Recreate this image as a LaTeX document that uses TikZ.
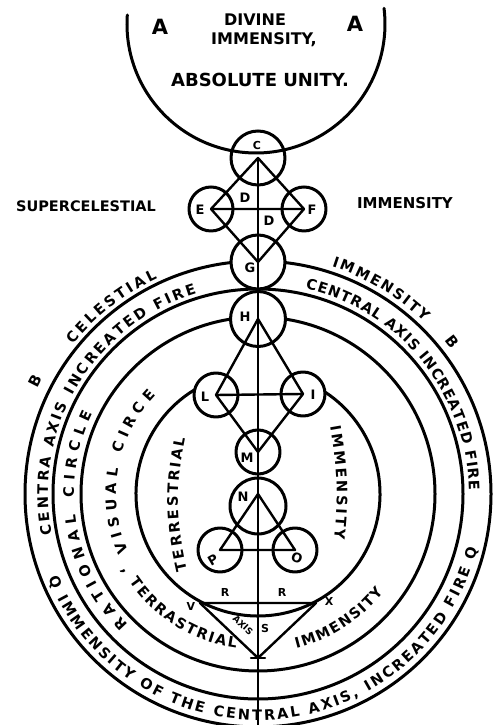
\documentclass[tikz,border=0pt]{standalone}
\usepackage{fontspec}
\setmainfont{DejaVu Sans}
\usetikzlibrary{calc,decorations.text}
\newcommand\hand[1]{\fontsize{#1}{#1}\selectfont\bfseries}

\begin{document}
\begin{tikzpicture}[x=1pt,y=1pt,line cap=round,line join=round,
  every node/.style={font=\hand{13},inner sep=0pt},
  ball/.style={circle,draw,line width=3pt,fill=white,inner sep=0pt,minimum size=#1},
  ring/.style={line width=3pt},
  link/.style={line width=2.4pt},
  arctext/.style={decorate,decoration={text along path,text align=fit to path,text={|\hand{14.5}|#1}}}]
\useasboundingbox (0,0) rectangle (494,725);
\fill[white] (0,0) rectangle (494,725);
\coordinate (ctr) at (258,231);\coordinate (top) at (256,701);\coordinate (foot) at (258,0);
\coordinate (V) at (200,122);\coordinate (X) at (316,122);\coordinate (base) at (258,67);
\draw[ring] (ctr) circle[radius=233];
\draw[ring] (ctr) circle[radius=205];
\draw[ring] (ctr) circle[radius=177];
\draw[ring] ($(ctr)+(118:122)$) arc[start angle=118,end angle=422,radius=122];
\node[ball=54] (C) at (258,567) {};
\node[ball=44] (E) at (211,516) {};\node[ball=44] (F) at (304,516) {};
\node[ball=54] (G) at (258,463) {};
\node[ball=55] (H) at (258,406) {};
\node[ball=44] (L) at (216,330) {};\node[ball=44] (I) at (303,331) {};
\node[ball=44] (M) at (258,273) {};
\node[ball=56] (N) at (258,219) {};
\node[ball=44] (P) at (220,175) {};\node[ball=44] (O) at (295,175) {};
\draw[ring] ($(top)+(176:129)$) arc[start angle=176,end angle=367,radius=129];
\draw[link] (C.center) -- (foot);
\draw[link] (C.center) -- (E.center) -- (G.center) -- (F.center) -- cycle (E.center) -- (F.center);
\draw[link] (H.center) -- (L.center) -- (M.center) -- (I.center) -- cycle (L.center) -- (I.center);
\draw[link] (ctr) -- (P.center) -- (O.center) -- cycle;
\draw[link] (V) -- (base) -- (X) -- cycle;
\draw[link] ([xshift=-7]base) -- ([xshift=7]base);
\node[font=\hand{21}] (tA1) at (160,698) {A};\node[font=\hand{21}] (tA2) at (355,701) {A};
\node[font=\hand{16}] (tDivine) at (255,705) {DIVINE};
\node[font=\hand{16}] (tImm) at (264,685) {IMMENSITY,};
\node[font=\hand{18}] (tUnity) at (260,645) {ABSOLUTE UNITY.};
\node[font=\hand{14.5}] (tSuper) at (86,519) {SUPERCELESTIAL};
\node[font=\hand{15}] (tImmR) at (405,522) {IMMENSITY};
\node[font=\hand{11}] (tC) at (257,579) {C};
\node (tE) at (200,515) {E};\node (tF) at (312,515) {F};
\node (tD1) at (245,527) {D};\node (tD2) at (269,504) {D};
\node (tG) at (250,457) {G};\node (tH) at (245,408) {H};
\node (tL) at (205,328) {L};\node (tI) at (313,330) {I};
\node (tM) at (247,267) {M};\node (tN) at (243,228) {N};
\node[rotate=30] (tP) at (213,165) {P};\node[rotate=-20] (tO) at (297,167) {O};
\node[font=\hand{11}] (tR1) at (225,133) {R};\node[font=\hand{11}] (tR2) at (282,133) {R};
\node[font=\hand{11}] (tV) at (191,119) {V};\node[font=\hand{11}] (tX) at (329,124) {X};
\node[font=\hand{11}] (tS) at (265,97) {S};
\node[font=\hand{9},rotate=-43] (tAxis) at (243,100) {AXIS};
\node[font=\hand{15},rotate=63] (tB1) at ($(ctr)+(153:250)$) {B};
\node[font=\hand{15},rotate=-52] (tB2) at ($(ctr)+(38:247)$) {B};
\path[arctext={CELESTIAL}] ($(ctr)+(141:238)$) arc[start angle=141,end angle=115,radius=238];
\path[arctext={IMMENSITY}] ($(ctr)+(72:239)$) arc[start angle=72,end angle=46,radius=239];
\path[arctext={CENTRA AXIS INCREATED FIRE}] ($(ctr)+(191:210)$) arc[start angle=191,end angle=107,radius=210];
\path[arctext={CENTRAL AXIS INCREATED FIRE}] ($(ctr)+(77:211)$) arc[start angle=77,end angle=1,radius=211];
\path[arctext={Q IMMENSITY OF THE CENTRAL AXIS, INCREATED FIRE Q}] ($(ctr)+(202:226)$) arc[start angle=202,end angle=346,radius=226];
\path[arctext={RATIONAL CIRCLE}] ($(ctr)+(225:184)$) arc[start angle=225,end angle=154,radius=184];
\path[arctext={VISUAL CIRCE}] ($(ctr)+(204:142)$) arc[start angle=204,end angle=136,radius=142];
\path[arctext={, TERRASTRIAL}] ($(ctr)+(209:156)$) arc[start angle=209,end angle=262,radius=156];
\path[arctext={IMMENSITY}] ($(ctr)+(284:159)$) arc[start angle=284,end angle=322,radius=159];
\path[arctext={TERRESTRIAL}] (187,155) to[bend left=12] (185,287);
\path[arctext={IMMENSITY}] (330,298) to[bend left=8] (334,186);
\end{tikzpicture}
\end{document}
